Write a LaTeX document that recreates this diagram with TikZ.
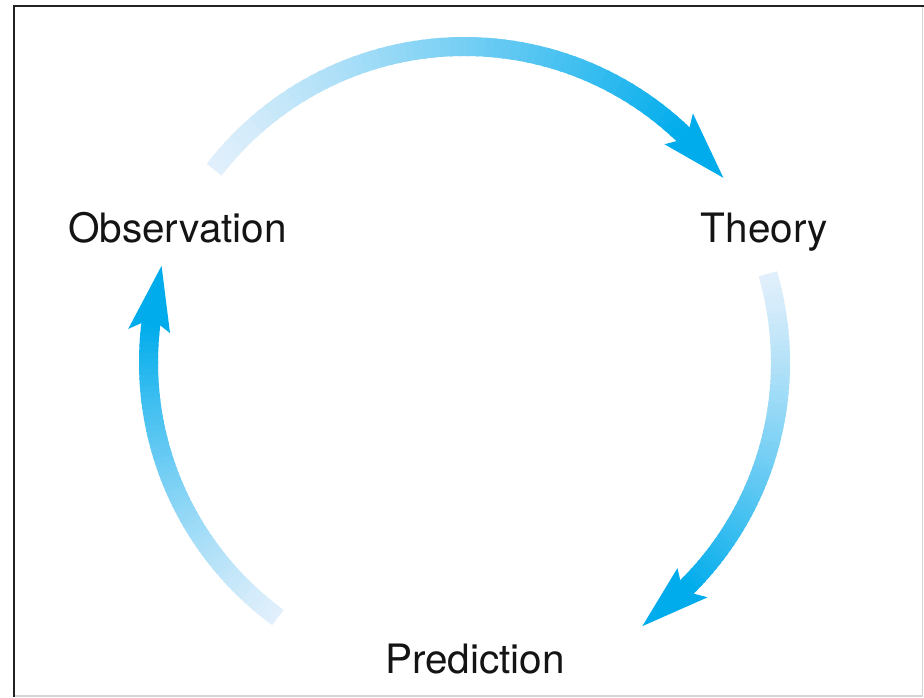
\documentclass[tikz,border=0pt]{standalone}
\usepackage{fontspec}
\setmainfont{TeX Gyre Heros}
\definecolor{arrowlight}{RGB}{224,239,251}
\definecolor{arrowfull}{RGB}{0,172,236}
\definecolor{frameedge}{RGB}{34,34,34}
\definecolor{framefaint}{RGB}{212,212,212}
\definecolor{labeltext}{RGB}{20,20,20}

% A circular arrow around the origin: shaft shaded from light to full cyan,
% head bent along the circle.  #1 = start angle, #2 = tip angle (clockwise).
\newcommand\cyclearrow[2]{%
  \pgfmathsetmacro\headback{#2+12}%
  \pgfmathsetmacro\neckang{#2+10.8}%
  \foreach \i in {0,...,59}{%
    \pgfmathsetmacro\segA{#1+(\neckang-#1)*\i/60}%
    \pgfmathsetmacro\segB{#1+(\neckang-#1)*(\i+1)/60-0.5}%
    \pgfmathtruncatemacro\mixp{100*((\i+0.5)/60)^1.2}%
    \draw[shaft, arrowfull!\mixp!arrowlight]
      (\segA:316) arc[start angle=\segA, end angle=\segB, radius=316];
  }%
  \fill[arrowfull] (#2:318) -- (\headback:338) -- (\neckang:326)
    -- (\neckang:306) -- (\headback:296) -- cycle;
}

\begin{document}
\begin{tikzpicture}[x=0.025cm, y=0.025cm,
  steplabel/.style={font=\fontsize{28.8}{34}\selectfont, text=labeltext,
                    inner sep=0pt, anchor=base},
  shaft/.style={line width=13.5pt, line cap=butt}]
\useasboundingbox (0,0) rectangle (924,-697);
\fill[white] (0,0) rectangle (924,-697);

% frame
\draw[framefaint, line width=1.1pt] (14,-696) -- (922.5,-696) -- (922.5,-6);
\draw[frameedge, line width=1.8pt] (14,-697) -- (14,-6) -- (924,-6);

% stages of the cycle
\node[steplabel] (obs)  at (177.5,-242) {Observation};
\node[steplabel] (theo) at (764.5,-242) {Theory};
\node[steplabel] (pred) at (475,-673)   {Prediction};

% arrows running round the cycle
\coordinate (hub) at (464.5,-362.5);
\begin{scope}[shift={(hub)}]
  \cyclearrow{142.4}{35.5}
  \cyclearrow{16.3}{-56}
  \cyclearrow{233.8}{162.3}
\end{scope}
\end{tikzpicture}
\end{document}
